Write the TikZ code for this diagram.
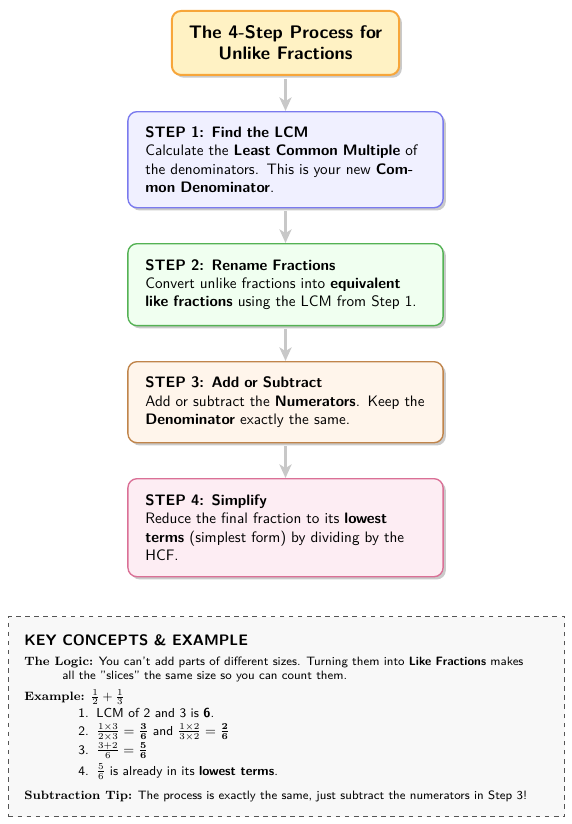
\documentclass[tikz,border=0pt]{standalone}
\usepackage{amsmath}
\usetikzlibrary{arrows.meta,shadows}
\definecolor{tfill}{RGB}{255,242,196}
\definecolor{tdraw}{RGB}{247,166,58}
\definecolor{afill}{RGB}{240,240,255}
\definecolor{adraw}{RGB}{122,122,238}
\definecolor{bfill}{RGB}{240,255,240}
\definecolor{bdraw}{RGB}{84,178,84}
\definecolor{cfill}{RGB}{255,245,235}
\definecolor{cdraw}{RGB}{192,132,74}
\definecolor{dfill}{RGB}{253,237,243}
\definecolor{ddraw}{RGB}{218,112,150}
\definecolor{arrowgray}{RGB}{200,200,200}
\definecolor{kfill}{RGB}{248,248,248}
\definecolor{kdraw}{RGB}{85,85,85}
\tikzset{
  boxbase/.style={rounded corners=6pt, font=\sffamily,
    drop shadow={shadow xshift=1.8pt, shadow yshift=-1.8pt, opacity=0.35, fill=black!60}},
  titlebox/.style={boxbase, draw=tdraw, fill=tfill, line width=1.3pt,
    align=center, minimum width=150pt, minimum height=42.2pt,
    font=\sffamily\large\bfseries, anchor=north},
  stepbox/.style={boxbase, line width=0.9pt, text width=185pt, align=left,
    inner xsep=11.5pt, anchor=north},
  flowarrow/.style={draw=arrowgray, line width=1.6pt,
    -{Stealth[length=9pt,width=8pt,inset=2.5pt]}},
  keybox/.style={draw=kdraw, fill=kfill, dashed, line width=0.7pt,
    anchor=north west, inner sep=0pt},
  kline/.style={anchor=base west, inner sep=0pt, font=\sffamily\footnotesize},
  kitem/.style={kline, font=\sffamily\fontsize{8.6pt}{10pt}\selectfont}
}
\begin{document}
\begin{tikzpicture}[x=0.66pt,y=-0.66pt]
\useasboundingbox (0,0) rectangle (572,824);
\node[titlebox] (title) at (285.5,10) {The 4-Step Process for\\Unlike Fractions};
\node[stepbox, draw=adraw, fill=afill, minimum height=63.4pt] (s1) at (285.5,111)
  {\textbf{STEP 1: Find the LCM}\\Calculate the \textbf{Least Common Multiple} of the denominators. This is your new \textbf{Common Denominator}.};
\node[stepbox, draw=bdraw, fill=bfill, minimum height=54.1pt] (s2) at (285.5,243)
  {\textbf{STEP 2: Rename Fractions}\\Convert unlike fractions into \textbf{equivalent like fractions} using the LCM from Step 1.};
\node[stepbox, draw=cdraw, fill=cfill, minimum height=53.5pt] (s3) at (285.5,361)
  {\textbf{STEP 3: Add or Subtract}\\Add or subtract the \textbf{Numerators}. Keep the \textbf{Denominator} exactly the same.};
\node[stepbox, draw=ddraw, fill=dfill, minimum height=64.7pt] (s4) at (285.5,478)
  {\textbf{STEP 4: Simplify}\\Reduce the final fraction to its \textbf{lowest terms} (simplest form) by dividing by the HCF.};
\draw[flowarrow] ([yshift=-2pt]title.south) -- (s1.north);
\draw[flowarrow] ([yshift=-2pt]s1.south) -- (s2.north);
\draw[flowarrow] ([yshift=-2pt]s2.south) -- (s3.north);
\draw[flowarrow] ([yshift=-2pt]s3.south) -- (s4.north);
\node[keybox, minimum width=367pt, minimum height=132pt] (kc) at (8,616) {};
\node[kline, font=\sffamily\bfseries] (kct) at (24,645) {KEY CONCEPTS \& EXAMPLE};
\node[kline] (lg1) at (24,665) {{\rmfamily\bfseries The Logic:} You can't add parts of different sizes. Turning them into \textbf{Like Fractions} makes};
\node[kline] (lg2) at (62,679) {all the "slices" the same size so you can count them.};
\node[kline] (ex) at (24,700) {{\rmfamily\bfseries Example:} $\frac{1}{2}+\frac{1}{3}$};
\node[kitem] (n1) at (78,717) {1.};
\node[kitem] (i1) at (96,717) {LCM of 2 and 3 is \textbf{6}.};
\node[kitem] (n2) at (78,735) {2.};
\node[kitem] (i2) at (96,735) {$\frac{1\times3}{2\times3}=\frac{\mathbf{3}}{\mathbf{6}}$ and $\frac{1\times2}{3\times2}=\frac{\mathbf{2}}{\mathbf{6}}$};
\node[kitem] (n3) at (78,754) {3.};
\node[kitem] (i3) at (96,754) {$\frac{3+2}{6}=\frac{\mathbf{5}}{\mathbf{6}}$};
\node[kitem] (n4) at (78,775) {4.};
\node[kitem] (i4) at (96,775) {$\frac{5}{6}$ is already in its \textbf{lowest terms}.};
\node[kline] (sub) at (24,799) {{\rmfamily\bfseries Subtraction Tip:} The process is exactly the same, just subtract the numerators in Step 3!};
\end{tikzpicture}
\end{document}
